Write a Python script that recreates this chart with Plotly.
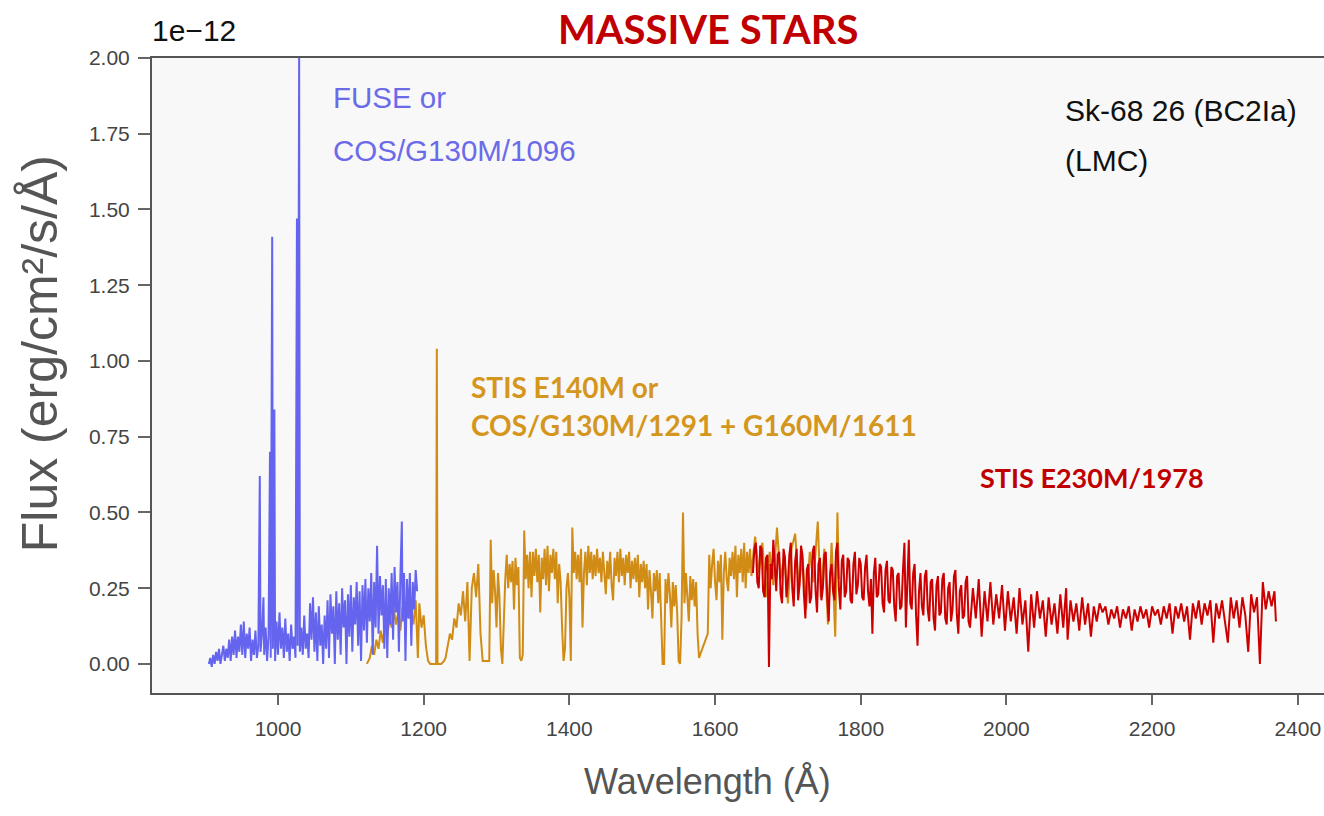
import plotly.graph_objects as go

# ---------------- data ----------------
wl_blue = [905,907,909,911,913,915,917,919,921,923,
           925,927,929,931,933,935,937,939,941,943,
           945,947,949,951,953,955,957,959,961,963,
           965,967,969,971,973,975,976,978,980,981,
           983,985,987,989,990,992,993,995,996,998,
           1000,1002,1004,1006,1008,1010,1012,1014,1016,1018,
           1020,1022,1024,1026,1027,1029,1030,1032,1034,1036,
           1038,1040,1042,1044,1046,1048,1050,1052,1054,1056,
           1058,1060,1062,1064,1066,1068,1070,1072,1074,1076,
           1078,1080,1082,1084,1086,1088,1090,1092,1094,1096,
           1098,1100,1102,1104,1106,1108,1110,1112,1114,1116,
           1118,1120,1122,1124,1126,1128,1130,1132,1134,1136,
           1138,1140,1142,1144,1146,1148,1150,1152,1154,1156,
           1158,1160,1162,1164,1166,1168,1170,1171,1173,1175,
           1177,1179,1181,1183,1185,1187,1189,1191]
flux_blue = [0.00,0.02,-0.01,0.03,0.00,0.04,0.01,0.05,0.00,0.03,
             0.06,0.01,0.05,0.02,0.08,0.01,0.09,0.03,0.11,0.02,
             0.09,0.04,0.13,0.03,0.14,0.02,0.10,0.05,0.12,0.01,
             0.08,0.03,0.11,0.02,0.06,0.62,0.04,0.10,0.22,0.03,
             0.12,0.01,0.09,0.70,0.02,1.41,0.05,0.84,0.01,0.14,
             0.03,0.17,0.05,0.12,0.02,0.15,0.04,0.10,0.01,0.13,
             0.05,0.09,0.02,1.47,0.06,2.00,0.04,0.12,0.03,0.16,
             0.05,0.10,0.02,0.20,0.08,0.22,0.04,0.17,0.01,0.19,
             0.06,0.13,0.00,0.16,0.05,0.21,0.02,0.23,0.10,0.19,
             0.00,0.24,0.08,0.20,0.03,0.25,0.12,0.21,0.00,0.23,
             0.09,0.26,0.04,0.22,0.13,0.27,0.06,0.24,0.01,0.26,
             0.11,0.28,0.07,0.25,0.14,0.30,0.03,0.27,0.12,0.39,
             0.10,0.29,0.16,0.26,0.05,0.28,0.02,0.25,0.13,0.30,
             0.08,0.32,0.17,0.27,0.04,0.29,0.47,0.14,0.30,0.01,
             0.28,0.15,0.30,0.06,0.27,0.18,0.31,0.24]

wl_gold = [1122,1126,1129,1132,1135,1138,1141,1144,1147,1150,
           1153,1156,1159,1162,1165,1168,1171,1174,1177,1180,
           1183,1186,1189,1192,1194,1197,1200,1203,1206,1209,
           1214,1217,1218,1219,1224,1228,1230,1233,1236,1239,
           1242,1245,1248,1251,1254,1257,1260,1263,1266,1269,
           1272,1275,1278,1281,
           1290,1292,1294,1296,1298,1300,1302,1304,1306,1308,
           1310,1312,1314,1316,1318,1320,1322,1324,1326,1328,
           1330,1332,1334,1336,1338,1340,1342,1344,1346,1348,
           1350,1352,1354,1356,1358,1360,1362,1364,1366,1368,
           1370,1372,1374,1376,1378,1380,1382,1384,1386,1388,
           1390,1392,1394,1396,1398,1400,1402,1404,1406,1408,
           1410,1412,1414,1416,1418,1420,1422,1424,1426,1428,
           1430,1432,1434,1436,1438,1440,1442,1444,1446,1448,
           1450,1452,1454,1456,1458,1460,1462,1464,1466,1468,
           1470,1472,1474,1476,1478,1480,1482,1484,1486,1488,
           1490,1492,1494,1496,1498,1500,1502,1504,1506,1508,
           1510,1512,1514,1516,1518,1520,1522,1524,1526,1528,
           1530,1532,1534,1536,1538,1540,1542,1544,1546,1548,
           1550,1552,1554,1556,1558,1560,1562,1564,1566,1568,
           1570,1572,1574,1576,1578,1590,1592,1594,1596,1598,
           1600,1602,1604,1606,1608,1610,1612,1614,1616,1618,
           1620,1622,1624,1626,1628,1630,1632,1634,1636,1638,
           1640,1642,1644,1646,1648,1650,1652,
           1655,1660,1665,1670,1675,
           1680,1685,1690,1695,1700,1705,1710,1715,1720,1725,
           1730,1735,1741,1745,1750,1755,1760,1765,1768,1770]
flux_gold = [0.00,0.02,0.06,0.03,0.08,0.05,0.11,0.07,0.14,0.09,
             0.15,0.12,0.18,0.13,0.17,0.11,0.19,0.14,0.20,0.15,
             0.18,0.13,0.21,0.02,0.20,0.12,0.16,0.06,0.01,0.00,
             0.00,0.00,1.04,0.00,0.00,0.01,0.02,0.06,0.10,0.08,
             0.15,0.12,0.20,0.16,0.24,0.14,0.27,0.01,0.25,0.30,
             0.22,0.33,0.10,0.01,
             0.01,0.41,0.20,0.31,0.24,0.12,0.30,0.22,0.05,0.00,
             0.18,0.28,0.36,0.25,0.33,0.27,0.34,0.18,0.35,0.26,
             0.32,0.02,0.01,0.03,0.44,0.28,0.36,0.25,0.37,0.22,
             0.37,0.29,0.38,0.27,0.36,0.17,0.35,0.28,0.38,0.26,
             0.39,0.24,0.36,0.30,0.38,0.28,0.37,0.20,0.33,0.27,
             0.12,0.01,0.05,0.25,0.30,0.22,0.01,0.45,0.30,0.37,
             0.28,0.36,0.27,0.38,0.12,0.30,0.37,0.26,0.39,0.30,
             0.37,0.28,0.36,0.29,0.38,0.30,0.35,0.27,0.37,0.29,
             0.23,0.34,0.28,0.37,0.26,0.21,0.35,0.29,0.37,0.27,
             0.38,0.29,0.35,0.26,0.36,0.30,0.37,0.25,0.34,0.28,
             0.35,0.27,0.36,0.22,0.33,0.27,0.34,0.25,0.33,0.18,
             0.31,0.24,0.15,0.30,0.24,0.31,0.20,0.30,0.10,0.00,
             0.00,0.28,0.20,0.30,0.23,0.12,0.27,0.19,0.26,0.17,
             0.01,0.00,0.15,0.50,0.20,0.30,0.22,0.14,0.29,0.21,
             0.28,0.19,0.27,0.10,0.02,0.10,0.36,0.25,0.33,0.38,
             0.27,0.21,0.34,0.27,0.36,0.08,0.30,0.37,0.28,0.24,
             0.35,0.29,0.37,0.28,0.39,0.22,0.36,0.30,0.38,0.27,
             0.40,0.25,0.37,0.30,0.38,0.29,0.35,
             0.42,0.30,0.40,0.22,0.37,
             0.26,0.45,0.28,0.36,0.20,0.38,0.43,0.25,0.35,0.18,
             0.37,0.27,0.47,0.22,0.38,0.13,0.40,0.09,0.50,0.28]

wl_red = [1652,1654,1656,1658,1660,1662,1664,1666,1668,1670,
          1672,1674,1676,1678,1680,1682,1684,1686,1688,1690,
          1692,1694,1696,1698,1700,1702,1704,1706,1708,1710,
          1712,1714,1716,1718,1720,1722,1724,1726,1728,1730,
          1732,1734,1736,1738,1740,1742,1744,1746,1748,1750,
          1752,1754,1756,1758,1760,1762,1764,1766,1768,1770,
          1772,1774,1776,1778,1780,1782,1784,1786,1788,1790,
          1792,1794,1796,1798,1800,1802,1804,1806,1808,1810,
          1812,1814,1816,1818,1820,1822,1824,1826,1828,1830,
          1832,1834,1836,1838,1840,1842,1844,1846,1848,1850,
          1852,1854,1856,1858,1860,1862,1864,1866,1868,1870,
          1872,1874,1876,1878,1880,1882,1884,1886,1888,1890,
          1892,1894,1896,1898,1900,1902,1904,1906,1908,1910,
          1912,1914,1916,1918,1920,1922,1924,1926,1928,1930,
          1932,1934,1936,1938,1940,1942,1944,1946,1948,1950,
          1954,1958,1962,
          1966,1970,1974,1978,1982,1986,1990,1994,1998,2002,
          2006,2010,2014,2018,2022,2026,2030,2034,2038,2042,
          2046,2050,2054,2058,2062,2066,2070,2074,2078,2082,
          2084,2088,2092,2096,2100,2104,2108,2112,2116,2120,
          2124,2128,2132,2136,2140,2144,2148,2152,2156,2160,
          2164,2168,2172,2176,2180,2184,2188,2192,2196,2200,
          2204,2208,2212,2216,2220,2224,2228,2232,2236,2240,
          2244,2248,2252,2256,2260,2264,2268,2272,2276,2280,
          2284,2288,2292,2296,2300,2304,2308,2312,2316,2320,
          2324,2328,2332,2336,2340,2344,2348,2352,2356,2360,
          2364,2368,2370]
flux_red = [0.30,0.38,0.40,0.27,0.25,0.39,0.38,0.24,0.22,0.35,
            0.36,-0.01,0.33,0.28,0.41,0.30,0.24,0.36,0.37,0.23,
            0.20,0.38,0.35,0.22,0.27,0.36,0.40,0.25,0.19,0.34,
            0.38,0.21,0.26,0.39,0.36,0.23,0.15,0.31,0.33,0.20,
            0.22,0.37,0.39,0.24,0.17,0.33,0.35,0.21,0.25,0.36,
            0.37,0.22,0.14,0.30,0.33,0.24,0.21,0.37,0.40,0.25,
            0.18,0.34,0.36,0.22,0.24,0.35,0.34,0.21,0.20,0.33,
            0.37,0.23,0.26,0.35,0.33,0.22,0.21,0.32,0.36,0.24,
            0.19,0.28,0.10,0.30,0.35,0.22,0.23,0.33,0.32,0.20,
            0.17,0.31,0.34,0.21,0.20,0.32,0.31,0.19,0.14,0.29,
            0.30,0.18,0.19,0.31,0.40,0.12,0.27,0.41,0.20,0.18,
            0.30,0.33,0.16,0.06,0.24,0.30,0.19,0.16,0.29,0.31,
            0.18,0.14,0.27,0.28,0.15,0.11,0.26,0.29,0.16,0.17,
            0.28,0.30,0.15,0.13,0.25,0.27,0.14,0.18,0.29,0.31,
            0.16,0.10,0.24,0.26,0.15,0.16,0.27,0.29,0.14,0.12,
            0.25,0.15,0.28,
            0.09,0.24,0.14,0.27,0.13,0.23,0.15,0.26,0.11,0.24,
            0.14,0.22,0.10,0.25,0.13,0.21,0.04,0.23,0.12,0.24,
            0.15,0.21,0.09,0.22,0.13,0.20,0.10,0.23,0.12,0.25,
            0.08,0.21,0.14,0.20,0.11,0.22,0.13,0.20,0.09,0.19,
            0.14,0.20,0.17,0.19,0.13,0.18,0.15,0.19,0.12,0.18,
            0.15,0.19,0.11,0.18,0.14,0.19,0.15,0.18,0.12,0.19,
            0.16,0.18,0.13,0.19,0.15,0.20,0.10,0.19,0.15,0.20,
            0.14,0.19,0.08,0.20,0.15,0.21,0.13,0.20,0.16,0.21,
            0.07,0.20,0.15,0.21,0.14,0.07,0.22,0.15,0.21,0.12,
            0.22,0.16,0.04,0.23,0.17,0.22,0.00,0.27,0.18,0.24,
            0.19,0.24,0.14]

assert len(wl_blue) == len(flux_blue)
assert len(wl_gold) == len(flux_gold)
assert len(wl_red) == len(flux_red)

x_range = [827, 2436]
y_range = [-0.096, 2.0]
y_ticks = [0.0, 0.25, 0.5, 0.75, 1.0, 1.25, 1.5, 1.75, 2.0]
x_ticks = [1000, 1200, 1400, 1600, 1800, 2000, 2200, 2400]

BLUE = "#6464ef"
GOLD = "#d08c14"
RED = "#cc0000"
SANS = "Liberation Sans, Arial, sans-serif"
LATO = "Lato, Open Sans, sans-serif"
LW = 2.0

fig = go.Figure()
fig.add_trace(go.Scatter(x=wl_gold, y=flux_gold, mode="lines",
                         line=dict(color=GOLD, width=LW), showlegend=False))
fig.add_trace(go.Scatter(x=wl_blue, y=flux_blue, mode="lines",
                         line=dict(color=BLUE, width=LW), showlegend=False))
fig.add_trace(go.Scatter(x=wl_red, y=flux_red, mode="lines",
                         line=dict(color=RED, width=LW), showlegend=False))

ann = [
    dict(text="MASSIVE STARS", xref="paper", yref="paper", x=0.474, y=1.045,
         xanchor="center", yanchor="middle", showarrow=False,
         font=dict(family=LATO, size=40, color="#c00000", weight="bold")),
    dict(text="1e\u221212", xref="paper", yref="paper", x=-0.002, y=1.044,
         xanchor="left", yanchor="middle", showarrow=False,
         font=dict(family=SANS, size=30, color="#111111")),
    dict(text="FUSE or", x=1072.7, y=1.868, xanchor="left", yanchor="middle",
         showarrow=False, font=dict(family=SANS, size=29.5, color="#6b6bea")),
    dict(text="COS/G130M/1096", x=1072.7, y=1.696, xanchor="left", yanchor="middle",
         showarrow=False, font=dict(family=SANS, size=29.5, color="#6b6bea")),
    dict(text="Sk-68 26 (BC2Ia)", x=2077, y=1.828, xanchor="left", yanchor="middle",
         showarrow=False, font=dict(family=SANS, size=30, color="#111111")),
    dict(text="(LMC)", x=2077, y=1.663, xanchor="left", yanchor="middle",
         showarrow=False, font=dict(family=SANS, size=30, color="#111111")),
    dict(text="STIS E140M or", x=1262, y=0.914, xanchor="left", yanchor="middle",
         showarrow=False, font=dict(family=LATO, size=28, color="#d4961c", weight="bold")),
    dict(text="COS/G130M/1291 + G160M/1611", x=1262, y=0.789, xanchor="left", yanchor="middle",
         showarrow=False, font=dict(family=LATO, size=28, color="#d4961c", weight="bold")),
    dict(text="STIS E230M/1978", x=1961, y=0.614, xanchor="left", yanchor="middle",
         showarrow=False, font=dict(family=LATO, size=27, color="#c00000", weight="bold")),
    dict(text="Wavelength (\u00c5)", xref="paper", yref="paper", x=0.474, y=-0.14,
         xanchor="center", yanchor="middle", showarrow=False,
         font=dict(family=SANS, size=36, color="#555555")),
    dict(text="Flux (erg/cm\u00b2/s/\u00c5)", xref="paper", yref="paper", x=-0.0956, y=0.535,
         xanchor="center", yanchor="middle", textangle=-90, showarrow=False,
         font=dict(family=SANS, size=50, color="#555555")),
]

fig.update_layout(
    width=1324, height=816,
    margin=dict(l=152, r=0, t=58, b=123),
    paper_bgcolor="white", plot_bgcolor="#f8f8f8",
    annotations=ann,
    showlegend=False,
)
fig.update_xaxes(range=x_range, tickvals=x_ticks, ticktext=[str(v) for v in x_ticks],
                 showgrid=False, zeroline=False, showline=True, linecolor="#555555",
                 linewidth=2, mirror=True, ticks="outside", ticklen=10, tickwidth=1.5,
                 tickcolor="#666666", ticklabelstandoff=6, ticklabeloverflow="allow",
                 tickfont=dict(family=SANS, size=21, color="#444444"))
fig.update_yaxes(range=y_range, tickvals=y_ticks, ticktext=[f"{v:.2f}" for v in y_ticks],
                 showgrid=False, zeroline=False, showline=True, linecolor="#555555",
                 linewidth=2, ticks="outside", ticklen=12, tickwidth=1.5,
                 tickcolor="#666666", ticklabelstandoff=4,
                 tickfont=dict(family=SANS, size=21, color="#444444"))

fig.write_html("out.html",
               config={"displayModeBar": False},
               post_script="document.body.style.margin='0px';document.body.style.overflow='hidden';")
